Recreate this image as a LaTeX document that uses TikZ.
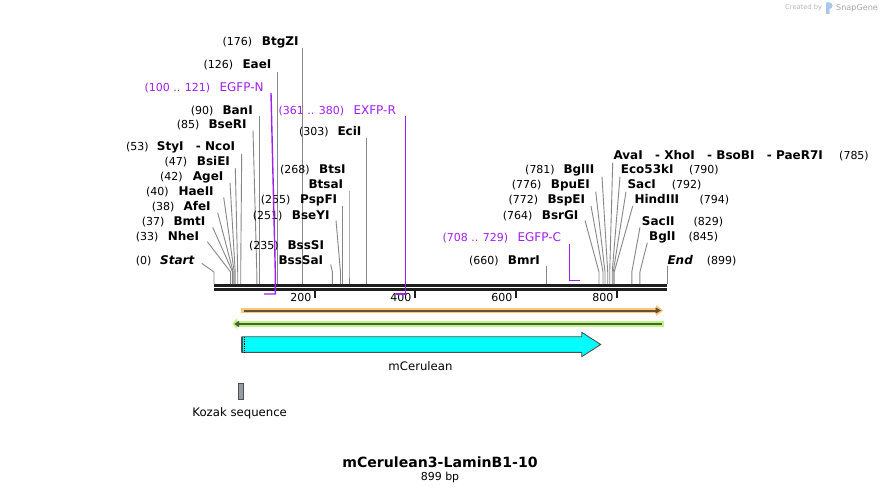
\documentclass[tikz,border=0pt]{standalone}
\usepackage{fontspec}
\setmainfont{DejaVu Sans}
\usetikzlibrary{arrows.meta}
\definecolor{cutgray}{RGB}{135,135,135}
\definecolor{primcol}{RGB}{160,32,240}
\definecolor{barcol}{RGB}{30,30,30}
\definecolor{orlight}{RGB}{252,200,120}
\definecolor{ordark}{RGB}{100,80,55}
\definecolor{grlight}{RGB}{190,245,130}
\definecolor{grdark}{RGB}{75,95,55}
\definecolor{cyanf}{RGB}{0,255,255}
\definecolor{featline}{RGB}{80,80,80}
\definecolor{kozakc}{RGB}{150,155,165}
\definecolor{wmgray}{RGB}{185,185,185}
\definecolor{wmblue}{RGB}{170,200,235}
\newcommand{\dsep}{\hspace{12.4pt}-~}
\newcommand{\cutsite}[4]{%
  \coordinate (t#1) at (#2,#3);
  \coordinate (b#1) at (#4,284);
  \draw[cutline] (t#1) -- (b#1 |- bend) -- (b#1);
}
\tikzset{
  num/.style={anchor=base west, inner sep=0pt, font=\fontsize{11}{13}\selectfont},
  enzname/.style={anchor=base west, inner sep=0pt, font=\fontsize{12}{14}\selectfont\bfseries},
  pnum/.style={num, text=primcol},
  pname/.style={anchor=base west, inner sep=0pt, text=primcol, font=\fontsize{12}{14}\selectfont},
  cutline/.style={draw=cutgray, line width=0.9pt},
  primline/.style={draw=primcol, line width=1.4pt},
  barline/.style={draw=barcol, line width=2.6pt},
  tickline/.style={draw=barcol, line width=1.6pt},
  ticklabel/.style={anchor=base east, inner sep=0pt, font=\fontsize{11}{13}\selectfont},
  featlabel/.style={anchor=base, inner sep=0pt, font=\fontsize{11.7}{14}\selectfont},
}
\begin{document}
\begin{tikzpicture}[x=1pt,y=-1pt]
\useasboundingbox (0,0) rectangle (882,494);
\fill[white] (0,0) rectangle (882,494);
\coordinate (bend) at (0,272);

% ---------- watermark ----------
\node[anchor=base west, inner sep=0pt, text=wmgray, font=\fontsize{6.7}{8}\selectfont] (wm1) at (785,10) {Created by};
\fill[wmblue] (826,2.5) rectangle (829.5,14) (829.5,2.5) .. controls (833.5,2.5) and (833.5,9) .. (829.5,9) -- cycle;
\node[anchor=base west, inner sep=0pt, text=wmgray!90!black, font=\fontsize{8.1}{10}\selectfont] (wm2) at (836,11) {SnapGene};

% ---------- sequence bar ----------
\coordinate (barL) at (214,285.3);
\coordinate (barR) at (667,285.3);
\draw[barline] (barL) -- (barR);
\draw[barline] (214,289.7) -- (667,289.7);
\foreach \x/\l in {315/200,415/400,516/600,617/800}{
  \draw[tickline] (\x,290) -- (\x,297.5);
  \node[ticklabel] (tk\l) at (\x-3.5,301) {\l};
}

% ---------- left cluster ----------
\node[num] (n0) at (135.7,264) {(0)};
\node[enzname] (e0) at (160,264) {\itshape Start};
\cutsite{0}{201.7}{263.3}{214}

\node[num] (n33) at (135.7,240.7) {(33)};
\node[enzname] (e33) at (167.7,240.7) {NheI};
\cutsite{33}{207.3}{241.7}{230.6}

\node[num] (n37) at (141.7,225.7) {(37)};
\node[enzname] (e37) at (173.3,225.7) {BmtI};
\cutsite{37}{212.7}{227.3}{232.6}

\node[num] (n38) at (151.7,211) {(38)};
\node[enzname] (e38) at (183.3,211) {AfeI};
\cutsite{38}{217.7}{212.7}{233.2}

\node[num] (n40) at (146,196) {(40)};
\node[enzname] (e40) at (178.3,196) {HaeII};
\cutsite{40}{223.7}{197.3}{234.2}

\node[num] (n42) at (160,180.7) {(42)};
\node[enzname] (e42) at (192.7,180.7) {AgeI};
\cutsite{42}{230}{182.7}{235.2}

\node[num] (n47) at (164.3,166) {(47)};
\node[enzname] (e47) at (196.7,166) {BsiEI};
\cutsite{47}{235.3}{168.3}{237.7}

\node[num] (n53) at (126,151) {(53)};
\node[enzname] (e53) at (156.7,151) {StyI\dsep NcoI};
\cutsite{53}{241.7}{154}{240.7}

\node[num] (n85) at (176.7,129) {(85)};
\node[enzname] (e85) at (208.3,129) {BseRI};
\cutsite{85}{253}{130.5}{256.8}

\node[num] (n90) at (190.7,114.3) {(90)};
\node[enzname] (e90) at (222.3,114.3) {BanI};
\cutsite{90}{259.4}{116}{259.4}

\node[num] (n126) at (203.3,69) {(126)};
\node[enzname] (e126) at (242.3,69) {EaeI};
\cutsite{126}{277.5}{71.7}{277.5}

\node[num] (n176) at (222.3,46) {(176)};
\node[enzname] (e176) at (261.7,46) {BtgZI};
\cutsite{176}{302.7}{48}{302.7}

\node[num] (n303) at (299,136) {(303)};
\node[enzname] (e303) at (337.3,136) {EciI};
\cutsite{303}{366.7}{138.3}{366.7}

\node[num] (n268) at (280,174) {(268)};
\node[enzname] (e268) at (319,174) {BtsI};
\node[enzname] (e268b) at (308.3,189) {BtsaI};
\cutsite{268}{349}{191}{349}

\node[num] (n255) at (260.7,204) {(255)};
\node[enzname] (e255) at (300,204) {PspFI};
\cutsite{255}{342.5}{206}{342.5}

\node[num] (n251) at (252.7,219) {(251)};
\node[enzname] (e251) at (291.7,219) {BseYI};
\cutsite{251}{336}{220.5}{340.5}

\node[num] (n235) at (249,249) {(235)};
\node[enzname] (e235) at (287.3,249) {BssSI};
\node[enzname] (e235b) at (278.3,264) {BssSaI};
\cutsite{235}{330.7}{264.5}{332.4}

% ---------- primers ----------
\node[pnum] (pn1) at (144.3,91.5) {(100 .. 121)};
\node[pname] (pe1) at (219.3,91.5) {EGFP-N};
\coordinate (pEN1) at (271,93);
\coordinate (pEN2) at (275.3,272);
\coordinate (pEN3) at (275.3,294);
\coordinate (pEN4) at (264,294);
\draw[primline] (pEN1) -- (pEN2) -- (pEN3) -- (pEN4);

\node[pnum] (pn2) at (278.3,114.3) {(361 .. 380)};
\node[pname] (pe2) at (353.3,114.3) {EXFP-R};
\coordinate (pXR1) at (405.5,116);
\coordinate (pXR2) at (405.5,294);
\coordinate (pXR3) at (395.7,294);
\draw[primline] (pXR1) -- (pXR2) -- (pXR3);

\node[pnum] (pn3) at (442.3,241.7) {(708 .. 729)};
\node[pname] (pe3) at (517.3,241.7) {EGFP-C};
\coordinate (pEC1) at (569.3,243.5);
\coordinate (pEC2) at (569.3,280.7);
\coordinate (pEC3) at (580,280.7);
\draw[primline] (pEC1) -- (pEC2) -- (pEC3);

% ---------- right cluster ----------
\node[num] (n660) at (469,264) {(660)};
\node[enzname] (e660) at (507.7,264) {BmrI};
\cutsite{660}{546.7}{265.5}{546.7}

\node[num] (n764) at (502.7,219) {(764)};
\node[enzname] (e764) at (541.7,219) {BsrGI};
\cutsite{764}{585}{220.5}{599}

\node[num] (n772) at (508.3,204) {(772)};
\node[enzname] (e772) at (547.3,204) {BspEI};
\cutsite{772}{591}{206}{603}

\node[num] (n776) at (511.7,189) {(776)};
\node[enzname] (e776) at (550.7,189) {BpuEI};
\cutsite{776}{595.7}{191.7}{605}

\node[num] (n781) at (525,174) {(781)};
\node[enzname] (e781) at (563.3,174) {BglII};
\cutsite{781}{602}{176.7}{607.7}

\node[enzname] (e785) at (613.3,159.3) {AvaI\dsep XhoI\dsep BsoBI\dsep PaeR7I};
\node[num] (n785) at (839,159.3) {(785)};
\cutsite{785}{612.7}{162.7}{609.7}

\node[enzname] (e790) at (620.7,174) {Eco53kI};
\node[num] (n790) at (689,174) {(790)};
\cutsite{790}{620}{176.7}{612.2}

\node[enzname] (e792) at (627.3,189) {SacI};
\node[num] (n792) at (671.7,189) {(792)};
\cutsite{792}{626}{191.7}{613.2}

\node[enzname] (e794) at (634.3,204) {HindIII};
\node[num] (n794) at (699.3,204) {(794)};
\cutsite{794}{632.7}{206}{614.2}

\node[enzname] (e829) at (641.7,225.7) {SacII};
\node[num] (n829) at (693.3,225.7) {(829)};
\cutsite{829}{640}{227.3}{631.8}

\node[enzname] (e845) at (649,240.7) {BglI};
\node[num] (n845) at (688.3,240.7) {(845)};
\cutsite{845}{647.3}{242.7}{639.9}

\node[enzname] (e899) at (667.3,264) {\itshape End};
\node[num] (n899) at (706.7,264) {(899)};
\cutsite{899}{667}{265.5}{667}

% ---------- ORF arrows ----------
\draw[line width=5.6pt, orlight] (241,310.5) -- (657,310.5);
\fill[orlight] (656,305) -- (663.3,310.5) -- (656,316) -- cycle;
\draw[line width=2pt, ordark] (243.5,310.5) -- (656,310.5);
\fill[ordark] (655.5,307.3) -- (661,310.5) -- (655.5,313.7) -- cycle;

\draw[line width=5.2pt, grlight] (236.5,324) -- (664.3,324);
\fill[grlight] (237,318.3) -- (232.3,323.8) -- (237,329.3) -- cycle;
\draw[line width=2pt, grdark] (238.5,324) -- (662.3,324);
\fill[grdark] (239,320.8) -- (234.3,324) -- (239,327.2) -- cycle;

% ---------- mCerulean ----------
\draw[featline, line width=0.9pt, fill=cyanf]
  (241.7,336.7) -- (581.7,336.7) -- (581.7,332.3) -- (600.7,344.5)
  -- (581.7,356.7) -- (581.7,352.3) -- (241.7,352.3) -- cycle;
\draw[featline, line width=1.5pt] (242.2,336.7) -- (242.2,352.3);
\draw[black, densely dotted, line width=0.8pt] (244.4,337.2) -- (244.4,351.8);
\node[featlabel] (lcer) at (420.5,370) {mCerulean};

% ---------- Kozak ----------
\draw[featline, line width=0.9pt, fill=kozakc] (238.3,383.3) rectangle (243.7,399);
\node[featlabel] (lkoz) at (239.7,416.5) {Kozak sequence};

% ---------- title ----------
\node[anchor=base, inner sep=0pt, font=\fontsize{14.1}{17}\selectfont\bfseries] (title) at (440,467.3) {mCerulean3-LaminB1-10};
\node[anchor=base, inner sep=0pt, font=\fontsize{11}{13}\selectfont] (len) at (440,480) {899 bp};
\end{tikzpicture}
\end{document}
